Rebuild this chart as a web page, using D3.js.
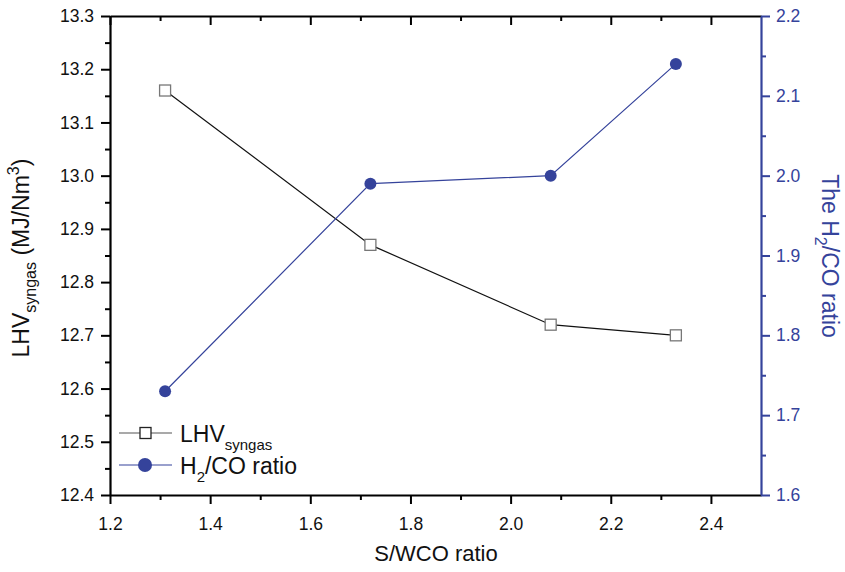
<!DOCTYPE html>
<html>
<head>
<meta charset="utf-8">
<script src="https://cdn.jsdelivr.net/npm/d3@7"></script>
<style>
  html, body { margin: 0; padding: 0; background: #fff; }
  svg { display: block; font-family: "Liberation Sans", Arial, sans-serif; }
</style>
</head>
<body>
<svg id="chart" width="845" height="572"></svg>
<script>
// S/WCO ratio sampled in the runs
const swcoRatio = [1.31, 1.72, 2.08, 2.33];
// Lower heating value of the syngas, MJ/Nm3
const lhvSyngas = [13.16, 12.87, 12.72, 12.70];
// H2/CO molar ratio of the syngas
const h2coRatio = [1.73, 1.99, 2.00, 2.14];

const xTicks = [1.2, 1.4, 1.6, 1.8, 2.0, 2.2, 2.4];
const yLeftTicks = [12.4, 12.5, 12.6, 12.7, 12.8, 12.9, 13.0, 13.1, 13.2, 13.3];
const yRightTicks = [1.6, 1.7, 1.8, 1.9, 2.0, 2.1, 2.2];

const blue = "#35439b";
const svg = d3.select("#chart");
const m = { left: 110, right: 761, top: 16, bottom: 495 };

const x = d3.scaleLinear().domain([1.2, 2.5]).range([m.left, m.right]);
const yL = d3.scaleLinear().domain([12.4, 13.3]).range([m.bottom, m.top]);
const yR = d3.scaleLinear().domain([1.6, 2.2]).range([m.bottom, m.top]);

const fmt1 = d3.format(".1f");

function minorTicks(scale, step) {
  const [a, b] = scale.domain();
  const out = [];
  for (let v = a + step / 2; v < b; v += step) out.push(+v.toFixed(4));
  return out;
}

// Bottom axis
const gx = svg.append("g").attr("transform", `translate(0,${m.bottom})`);
gx.call(d3.axisBottom(x).tickValues(xTicks).tickFormat(fmt1).tickSize(9).tickSizeOuter(0).tickPadding(14));
gx.append("g").call(d3.axisBottom(x).tickValues(minorTicks(x, 0.2).filter(v => v < 2.5)).tickFormat("").tickSize(5).tickSizeOuter(0))
  .select(".domain").remove();

// Top mirror axis, ticks pointing in
const gt = svg.append("g").attr("transform", `translate(0,${m.top})`);
gt.call(d3.axisBottom(x).tickValues(xTicks).tickFormat("").tickSize(9).tickSizeOuter(0));
gt.append("g").call(d3.axisBottom(x).tickValues(minorTicks(x, 0.2).filter(v => v < 2.5)).tickFormat("").tickSize(5).tickSizeOuter(0))
  .select(".domain").remove();

// Left axis
const gl = svg.append("g").attr("transform", `translate(${m.left},0)`);
gl.call(d3.axisLeft(yL).tickValues(yLeftTicks).tickFormat(fmt1).tickSize(9).tickSizeOuter(0).tickPadding(7));
gl.append("g").call(d3.axisLeft(yL).tickValues(minorTicks(yL, 0.1)).tickFormat("").tickSize(5).tickSizeOuter(0))
  .select(".domain").remove();

// Right axis
const gr = svg.append("g").attr("transform", `translate(${m.right},0)`);
gr.call(d3.axisRight(yR).tickValues(yRightTicks).tickFormat(fmt1).tickSize(9).tickSizeOuter(0).tickPadding(6));
gr.append("g").call(d3.axisRight(yR).tickValues(minorTicks(yR, 0.1)).tickFormat("").tickSize(5).tickSizeOuter(0))
  .select(".domain").remove();

svg.selectAll("g .domain").attr("stroke-width", 2.2);
svg.selectAll("g .tick line").attr("stroke-width", 2);
[gx, gt, gl].forEach(g => g.selectAll("text").attr("fill", "#111").style("font-size", "17.5px"));
gr.selectAll(".domain, .tick line").attr("stroke", blue);
gr.selectAll("text").attr("fill", blue).style("font-size", "17.5px");

// Axis titles
svg.append("text").attr("x", 436).attr("y", 561).attr("text-anchor", "middle")
  .style("font-size", "22px").attr("fill", "#111").text("S/WCO ratio");

const tl = svg.append("text").attr("transform", "translate(29,258) rotate(-90)")
  .attr("text-anchor", "middle").style("font-size", "23px").attr("fill", "#111");
tl.append("tspan").text("LHV");
tl.append("tspan").attr("dy", 7).style("font-size", "16px").text("syngas");
tl.append("tspan").attr("dy", -7).text(" (MJ/Nm");
tl.append("tspan").attr("dy", -10).style("font-size", "16px").text("3");
tl.append("tspan").attr("dy", 10).text(")");

const tr = svg.append("text").attr("transform", "translate(822,256) rotate(90)")
  .attr("text-anchor", "middle").style("font-size", "23px").attr("fill", blue);
tr.append("tspan").text("The H");
tr.append("tspan").attr("dy", 7).style("font-size", "16px").text("2");
tr.append("tspan").attr("dy", -7).text("/CO ratio");

// LHV series
const lhvData = swcoRatio.map((v, i) => ({ x: v, y: lhvSyngas[i] }));
svg.append("path").datum(lhvData)
  .attr("fill", "none").attr("stroke", "#111").attr("stroke-width", 1.2)
  .attr("d", d3.line().x(d => x(d.x)).y(d => yL(d.y)));
svg.selectAll(".sq").data(lhvData).join("rect")
  .attr("x", d => x(d.x) - 5.5).attr("y", d => yL(d.y) - 5.5)
  .attr("width", 11).attr("height", 11)
  .attr("fill", "#fff").attr("stroke", "#777").attr("stroke-width", 1.3);

// H2/CO series
const h2Data = swcoRatio.map((v, i) => ({ x: v, y: h2coRatio[i] }));
svg.append("path").datum(h2Data)
  .attr("fill", "none").attr("stroke", blue).attr("stroke-width", 1.2)
  .attr("d", d3.line().x(d => x(d.x)).y(d => yR(d.y)));
svg.selectAll(".dot").data(h2Data).join("circle")
  .attr("cx", d => x(d.x)).attr("cy", d => yR(d.y)).attr("r", 6)
  .attr("fill", blue);

// Legend
const lg = svg.append("g");
lg.append("line").attr("x1", 119).attr("x2", 172).attr("y1", 433).attr("y2", 433)
  .attr("stroke", "#555").attr("stroke-width", 1.2);
lg.append("rect").attr("x", 140).attr("y", 427.5).attr("width", 11).attr("height", 11)
  .attr("fill", "#fff").attr("stroke", "#222").attr("stroke-width", 1.3);
const l1 = lg.append("text").attr("x", 180).attr("y", 442).style("font-size", "23px").attr("fill", "#111");
l1.append("tspan").text("LHV");
l1.append("tspan").attr("dy", 8).style("font-size", "15px").text("syngas");

lg.append("line").attr("x1", 119).attr("x2", 172).attr("y1", 465).attr("y2", 465)
  .attr("stroke", blue).attr("stroke-width", 1.2);
lg.append("circle").attr("cx", 145).attr("cy", 465).attr("r", 7).attr("fill", blue);
const l2 = lg.append("text").attr("x", 180).attr("y", 474).style("font-size", "23px").attr("fill", "#111");
l2.append("tspan").text("H");
l2.append("tspan").attr("dy", 8).style("font-size", "15px").text("2");
l2.append("tspan").attr("dy", -8).text("/CO ratio");
</script>
</body>
</html>
